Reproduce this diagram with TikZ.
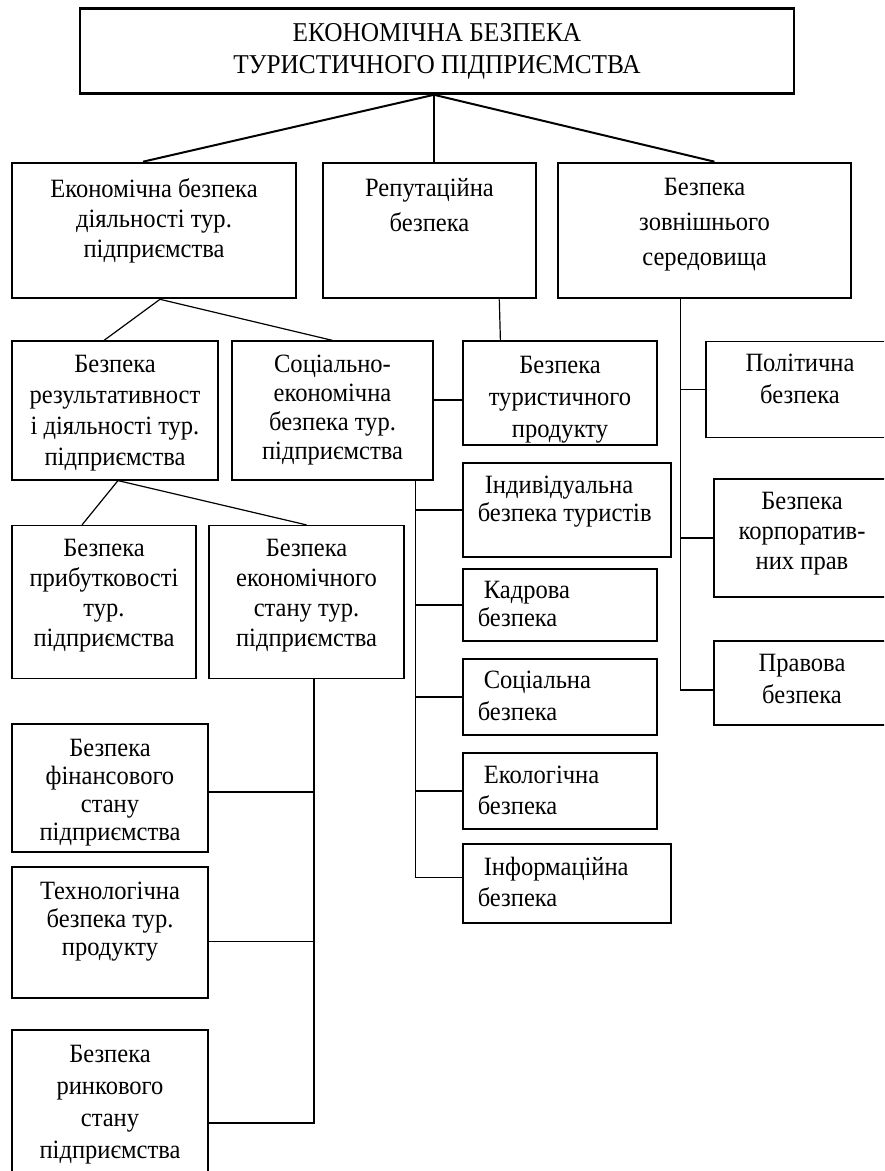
\documentclass[tikz,border=0pt]{standalone}
\usepackage{fontspec}
\setmainfont[FakeStretch=0.93]{Liberation Serif}
\usetikzlibrary{positioning,calc}

\tikzset{
  mainbox/.style={draw, line width=1.3pt, inner sep=0pt},
  sidebox/.style={draw, line width=0.6pt, inner sep=0pt},
  boxtext/.style={inner sep=0pt, align=center, font=\fontsize{13.2}{15}\selectfont},
  lefttext/.style={boxtext, align=left},
  lh/.style={font=\fontsize{13.2}{#1}\selectfont},
  link/.style={line width=0.6pt},
  mainlink/.style={line width=1pt}
}

\begin{document}
\begin{tikzpicture}[x=0.5pt,y=-0.5pt]
\useasboundingbox (0,0) rectangle (884,1171);
\clip (0,0) rectangle (884,1171);
% top of the tree
\node[mainbox, boxtext, font=\fontsize{13.6}{16}\selectfont, minimum width=357pt, minimum height=42.5pt] (top) at (437,51)
  {ЕКОНОМІЧНА БЕЗПЕКА\\ТУРИСТИЧНОГО ПІДПРИЄМСТВА};
% second row
\node[mainbox, minimum width=142pt, minimum height=67.5pt] (econ) at (154,230.5) {};
\node[mainbox, minimum width=106.5pt, minimum height=67.5pt] (rep) at (429.5,230.5) {};
\node[mainbox, minimum width=146.5pt, minimum height=67.5pt] (env) at (704.5,230.5) {};
\node[boxtext, below=8.5pt of econ.north] (econ-t) {Економічна безпека\\діяльності тур.\\підприємства};
\node[boxtext, lh=17.5pt, below=8pt of rep.north] (rep-t) {Репутаційна\\безпека};
\node[boxtext, lh=17.5pt, below=8pt of env.north] (env-t) {Безпека\\зовнішнього\\середовища};
% third row
\node[sidebox, minimum width=103pt, minimum height=69.5pt] (res) at (115,410.5) {};
\node[sidebox, minimum width=100.5pt, minimum height=69.5pt] (soc) at (332.5,410.5) {};
\node[sidebox, minimum width=97pt, minimum height=52pt] (prod) at (560,393) {};
\node[sidebox, minimum width=94pt, minimum height=48pt] (pol) at (800,389.5) {};
\node[boxtext, lh=15.5pt, below=7pt of res.north] (res-t) {Безпека\\результативност\\і діяльності тур.\\підприємства};
\node[boxtext, lh=14.5pt, below=7pt of soc.north] (soc-t) {Соціально-\\економічна\\безпека тур.\\підприємства};
\node[boxtext, lh=16pt, below=7.5pt of prod.north] (prod-t) {Безпека\\туристичного\\продукту};
\node[boxtext, lh=16pt, below=6.5pt of pol.north] (pol-t) {Політична\\безпека};
% branch of the social-economic box
\node[sidebox, minimum width=104pt, minimum height=47pt] (indiv) at (567,510) {};
\node[sidebox, minimum width=97pt, minimum height=36pt] (kadr) at (560,605) {};
\node[sidebox, minimum width=97pt, minimum height=38pt] (soci) at (560,697) {};
\node[sidebox, minimum width=97pt, minimum height=38pt] (eco) at (560,791) {};
\node[sidebox, minimum width=104pt, minimum height=39.5pt] (info) at (567,883.5) {};
\node[lefttext, lh=14pt, below right=6.5pt and 7.5pt of indiv.north west] (indiv-t) {\hspace*{3.5pt}Індивідуальна\\безпека туристів};
\node[lefttext, lh=14pt, below right=6pt and 7.5pt of kadr.north west] (kadr-t) {\hspace*{3pt}Кадрова\\безпека};
\node[lefttext, lh=16pt, below right=6pt and 7.5pt of soci.north west] (soci-t) {\hspace*{3pt}Соціальна\\безпека};
\node[lefttext, lh=15.5pt, below right=6.5pt and 7.5pt of eco.north west] (eco-t) {\hspace*{3pt}Екологічна\\безпека};
\node[lefttext, lh=15.5pt, below right=6.5pt and 7.5pt of info.north west] (info-t) {\hspace*{3pt}Інформаційна\\безпека};
% branch of the environment box
\node[sidebox, minimum width=88pt, minimum height=59pt] (corp) at (802,538) {};
\node[sidebox, minimum width=88pt, minimum height=42pt] (prav) at (802,683) {};
\node[boxtext, below=6.5pt of corp.north] (corp-t) {Безпека\\корпоратив-\\них прав};
\node[boxtext, lh=16pt, below=6.5pt of prav.north] (prav-t) {Правова\\безпека};
% fourth row
\node[sidebox, minimum width=92pt, minimum height=76.5pt] (prof) at (104,602) {};
\node[sidebox, minimum width=97.5pt, minimum height=76.5pt] (state) at (306.5,602) {};
\node[boxtext, below=7pt of prof.north] (prof-t) {Безпека\\прибутковості\\тур.\\підприємства};
\node[boxtext, below=7pt of state.north] (state-t) {Безпека\\економічного\\стану тур.\\підприємства};
% branch of the economic state box
\node[sidebox, minimum width=98pt, minimum height=64pt] (fin) at (110,788) {};
\node[sidebox, minimum width=98pt, minimum height=65.5pt] (tech) at (110,932.5) {};
\node[sidebox, minimum width=98pt, minimum height=93pt] (mark) at (110,1123) {};
\node[boxtext, lh=14pt, below=7.5pt of fin.north] (fin-t) {Безпека\\фінансового\\стану\\підприємства};
\node[boxtext, lh=14pt, below=7.5pt of tech.north] (tech-t) {Технологічна\\безпека тур.\\продукту};
\node[boxtext, lh=16pt, below=7.5pt of mark.north] (mark-t) {Безпека\\ринкового\\стану\\підприємства};

% connectors
\coordinate (hub) at ($(top.south)+(-3,0)$);
\draw[mainlink] (hub) -- ($(econ.north)+(-11,0)$);
\draw[mainlink] (hub) -- (hub |- rep.north);
\draw[mainlink] (hub) -- ($(env.north)+(10,0)$);

\draw[link] ($(econ.south)+(6,0)$) -- ($(res.north)+(-11,0)$);
\draw[link] ($(econ.south)+(6,0)$) -- (soc.north);
\draw[link] ($(rep.south east)+(-38,0)$) -- ($(prod.north west)+(38,0)$);
\draw[link] ($(soc.east)+(0,-10.5)$) coordinate (sp) -- (sp -| prod.west);

\coordinate (envb) at ($(env.south west)+(124,0)$);
\draw[link] (envb) |- ($(prav.west)+(0,7)$);
\foreach \b in {pol,corp}
  \draw[link] (envb |- \b.west) -- (\b.west);

\coordinate (socb) at ($(soc.south east)+(-18,0)$);
\draw[link] (socb) |- ($(info.west)+(0,-6)$);
\foreach \b in {indiv,kadr,soci,eco}
  \draw[link] (socb |- \b.west) -- (\b.west);

\draw[link] ($(res.south)+(3,0)$) -- ($(prof.north)+(-22,0)$);
\draw[link] ($(res.south)+(3,0)$) -- (state.north);

\coordinate (stb) at ($(state.south)+(7.5,0)$);
\draw[link] (stb) |- (mark.east);
\draw[link] ($(fin.east)+(0,4)$) -- ($(stb |- fin.east)+(0,4)$);
\draw[link] ($(tech.east)+(0,9)$) -- ($(stb |- tech.east)+(0,9)$);
\end{tikzpicture}
\end{document}
